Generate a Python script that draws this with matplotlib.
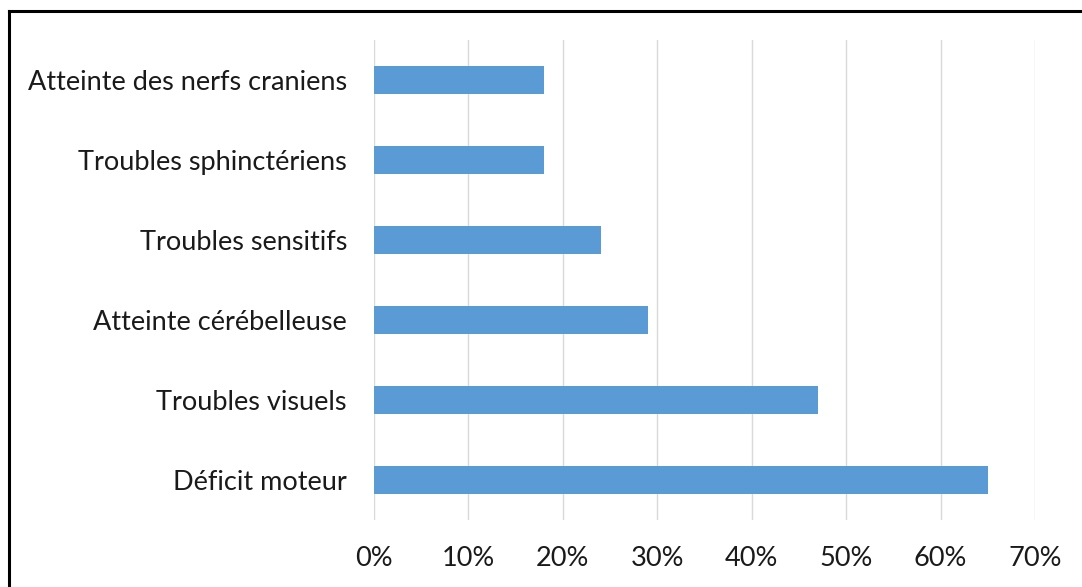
import matplotlib
matplotlib.use("Agg")
import matplotlib.pyplot as plt
from matplotlib.lines import Line2D

# data (bottom to top)
categories = ["Déficit moteur", "Troubles visuels", "Atteinte cérébelleuse",
              "Troubles sensitifs", "Troubles sphinctériens", "Atteinte des nerfs craniens"]
values = [0.65, 0.47, 0.29, 0.24, 0.18, 0.18]
xticks = [0.0, 0.1, 0.2, 0.3, 0.4, 0.5, 0.6, 0.7]
xtick_labels = ["0%", "10%", "20%", "30%", "40%", "50%", "60%", "70%"]

plt.rcParams["font.family"] = ["Lato", "DejaVu Sans"]

W, H = 1082, 587
fig = plt.figure(figsize=(W / 100, H / 100), dpi=100)
ax = fig.add_axes([374 / W, 1 - 520 / H, (1035 - 374) / W, (520 - 40) / H])

ax.barh(range(len(categories)), values, height=0.35, color="#5B9BD5", zorder=3)

ax.set_xlim(0, 0.7)
ax.set_ylim(-0.5, len(categories) - 0.5)
ax.set_xticks(xticks)
ax.set_xticklabels(xtick_labels)
ax.set_yticks(range(len(categories)))
ax.set_yticklabels(categories)

ax.grid(axis="x", color="#d9d9d9", linewidth=1.0, zorder=0)
ax.tick_params(axis="both", length=0, labelsize=19.5, colors="#1a1a1a")
ax.tick_params(axis="x", pad=19)
ax.tick_params(axis="y", pad=19.5)
for s in ax.spines.values():
    s.set_visible(False)

# outer frame (top and left edges visible in the crop)
fig.add_artist(Line2D([9 / W, 1.0], [1 - 11 / H, 1 - 11 / H], color="black", linewidth=2.2))
fig.add_artist(Line2D([9 / W, 9 / W], [0.0, 1 - 11 / H], color="black", linewidth=2.2))

fig.savefig("out.png", dpi=100)
plt.close(fig)
